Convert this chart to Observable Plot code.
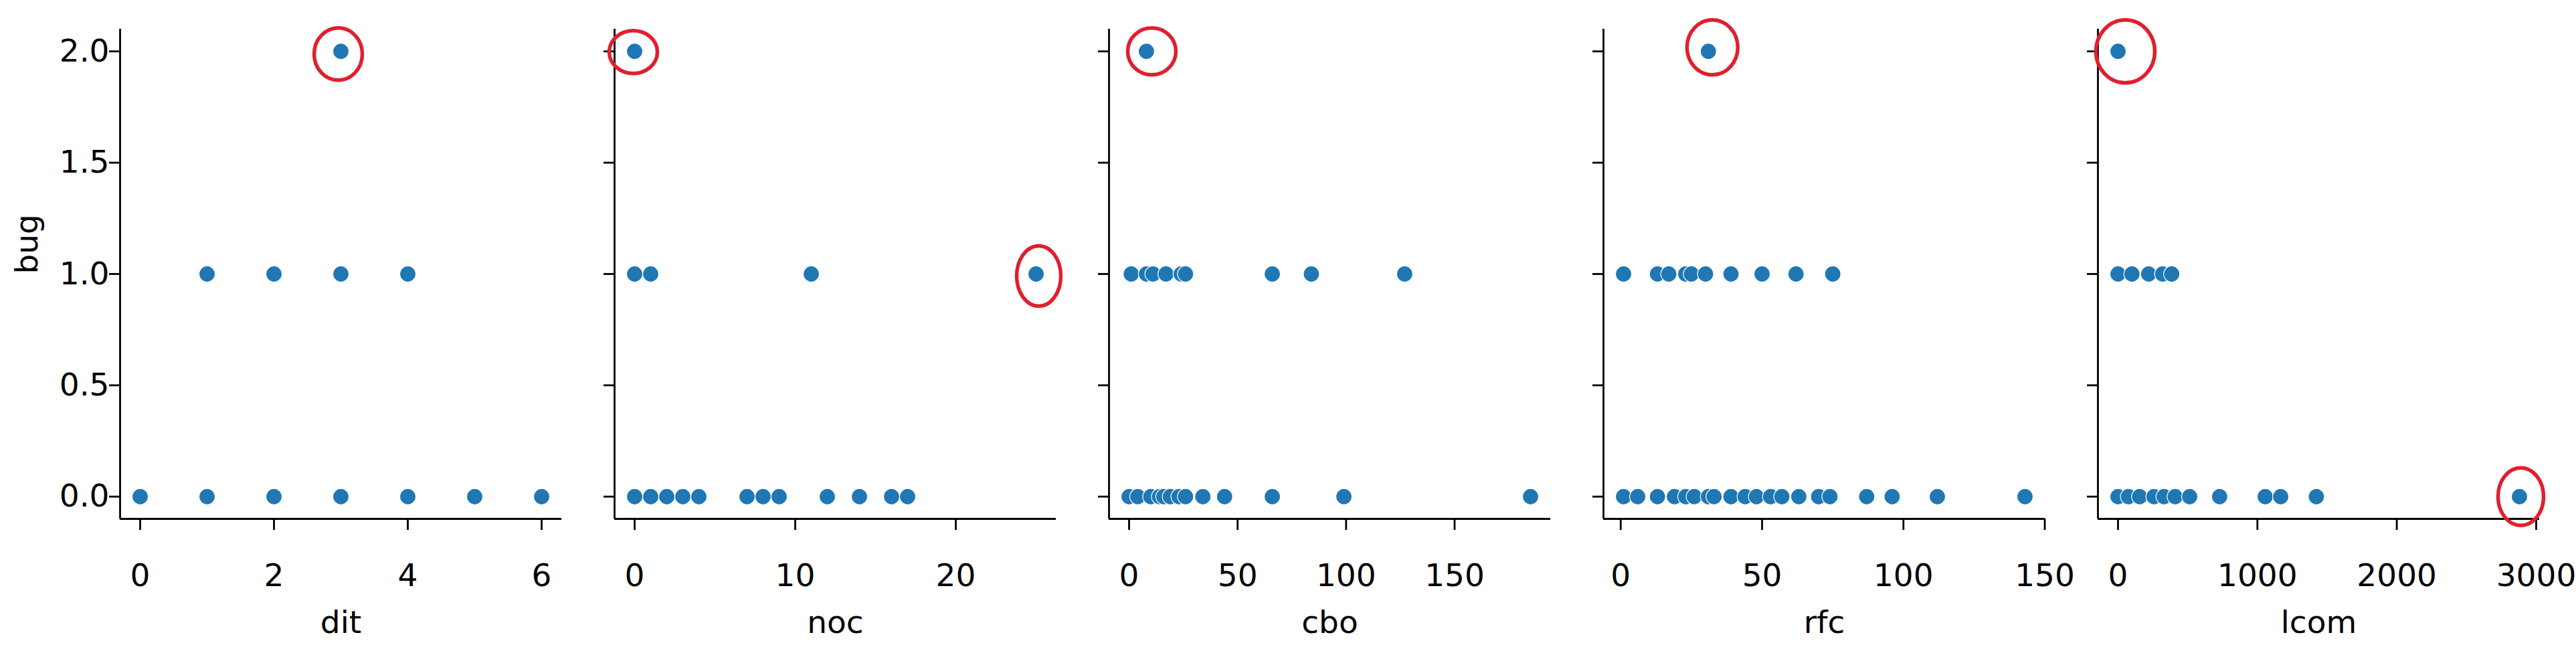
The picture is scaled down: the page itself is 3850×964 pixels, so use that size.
<!DOCTYPE html>
<html><head><meta charset="utf-8">
<script src="https://cdn.jsdelivr.net/npm/d3@7"></script>
<script src="https://cdn.jsdelivr.net/npm/@observablehq/plot@0.6"></script>
<style>
html,body{margin:0;padding:0;background:#fff;}
#chart{position:relative;width:3850px;height:964px;overflow:hidden;background:#fff;}
#chart svg{position:absolute;top:0;}
</style></head><body><div id="chart"></div>
<script>
// ---- data ----
const metrics = ["dit", "noc", "cbo", "rfc", "lcom"];
const bugTicks = [0, 0.5, 1, 1.5, 2];

const ditBug0 = [0, 1, 2, 3, 4, 5, 6];
const ditBug1 = [1, 2, 3, 4];
const ditBug2 = [3];

const nocBug0 = [0, 1, 2, 3, 4, 7, 8, 9, 12, 14, 16, 17];
const nocBug1 = [0, 1, 11, 25];
const nocBug2 = [0];

const cboBug0 = [0, 4, 10, 14, 16, 19, 23, 26, 34, 44, 66, 99, 185];
const cboBug1 = [1, 8, 11, 17, 24, 26, 66, 84, 127];
const cboBug2 = [8];

const rfcBug0 = [1, 6, 13, 19, 23, 26, 31, 33, 39, 44, 48, 53, 57, 63, 70, 74, 87, 96, 112, 143];
const rfcBug1 = [1, 13, 17, 23, 25, 30, 39, 50, 62, 75];
const rfcBug2 = [31];

const lcomBug0 = [0, 75, 155, 258, 330, 410, 514, 729, 1056, 1167, 1423, 2880];
const lcomBug1 = [0, 100, 220, 320, 385];
const lcomBug2 = [0];

const ditTicks = [0, 2, 4, 6];
const nocTicks = [0, 10, 20];
const cboTicks = [0, 50, 100, 150];
const rfcTicks = [0, 50, 100, 150];
const lcomTicks = [0, 1000, 2000, 3000];

// circled (highlighted) points
const circledMetric = ["dit", "noc", "noc", "cbo", "rfc", "lcom", "lcom"];
const circledValue = [3, 0, 25, 8, 31, 0, 2880];
const circledBug = [2, 2, 1, 2, 2, 2, 0];

// ---- styles (not data) ----
const circleShape = [
  {rx: 36, ry: 39, dx: -4, dy: 4},
  {rx: 36, ry: 32, dx: -2, dy: 1},
  {rx: 33, ry: 45, dx: 4, dy: 3},
  {rx: 36, ry: 35, dx: 8, dy: 0},
  {rx: 38, ry: 41, dx: 6, dy: -6},
  {rx: 44, ry: 47, dx: 11, dy: 0},
  {rx: 34, ry: 43, dx: 2, dy: 0}
];

// ---- build tables ----
const series = {
  dit: [ditBug0, ditBug1, ditBug2],
  noc: [nocBug0, nocBug1, nocBug2],
  cbo: [cboBug0, cboBug1, cboBug2],
  rfc: [rfcBug0, rfcBug1, rfcBug2],
  lcom: [lcomBug0, lcomBug1, lcomBug2]
};
const xTicks = {dit: ditTicks, noc: nocTicks, cbo: cboTicks, rfc: rfcTicks, lcom: lcomTicks};
const rows = [];
for (const m of metrics) series[m].forEach((vals, bug) => vals.forEach(v => rows.push({metric: m, value: v, bug})));
const circled = circledMetric.map((m, i) => ({metric: m, value: circledValue[i], bug: circledBug[i], ...circleShape[i]}));

function ellipseSymbol(rx, ry) {
  const k = 0.5522847498;
  return {draw(ctx) {
    ctx.moveTo(rx, 0);
    ctx.bezierCurveTo(rx, ry * k, rx * k, ry, 0, ry);
    ctx.bezierCurveTo(-rx * k, ry, -rx, ry * k, -rx, 0);
    ctx.bezierCurveTo(-rx, -ry * k, -rx * k, -ry, 0, -ry);
    ctx.bezierCurveTo(rx * k, -ry, rx, -ry * k, rx, 0);
    ctx.closePath();
  }};
}

const FS = 47, SW = 2.8, PANEL_STEP = 739;
const chart = document.getElementById("chart");

metrics.forEach((m, i) => {
  const data = rows.filter(d => d.metric === m);
  const lo = d3.min(data, d => d.value), hi = d3.max(data, d => d.value);
  const pad = (hi - lo) * 0.05;
  const x0 = lo - pad;
  const first = i === 0;
  const marks = [
    Plot.axisX({ticks: xTicks[m], tickSize: 17, tickPadding: 50, fontSize: FS, strokeWidth: SW, label: null, tickFormat: d3.format("d")}),
    Plot.axisY({ticks: bugTicks, tickSize: 16, tickPadding: 0, fontSize: FS, strokeWidth: SW, label: null, tickFormat: first ? d3.format(".1f") : () => ""}),
    Plot.ruleX([x0], {strokeWidth: SW, stroke: "#000"}),
    Plot.ruleY([-0.1], {strokeWidth: SW, stroke: "#000"}),
    Plot.dot(data, {x: "value", y: "bug", r: 12, fill: "#1f77b4", stroke: "white", strokeWidth: 1.2}),
    Plot.text([m], {frameAnchor: "bottom", dy: 170, fontSize: FS, fill: "#000"})
  ];
  if (first) marks.push(Plot.text(["bug"], {frameAnchor: "left", dx: -139, rotate: -90, fontSize: FS, fill: "#000"}));
  circled.filter(c => c.metric === m).forEach(c => {
    marks.push(Plot.dot([c], {x: "value", y: "bug", symbol: ellipseSymbol(c.rx, c.ry), r: 10, dx: c.dx, dy: c.dy, fill: "none", stroke: "#e0202e", strokeWidth: 5.5}));
  });
  const svg = Plot.plot({
    width: 839, height: 964,
    marginLeft: 179, marginRight: 0, marginTop: 43, marginBottom: 189,
    style: "background:transparent;overflow:visible;font-family:'DejaVu Sans';color:#000;",
    x: {domain: [x0, hi + pad]},
    y: {domain: [-0.1, 2.1]},
    marks
  });
  svg.style.left = (PANEL_STEP * i) + "px";
  chart.appendChild(svg);
});
</script></body></html>
